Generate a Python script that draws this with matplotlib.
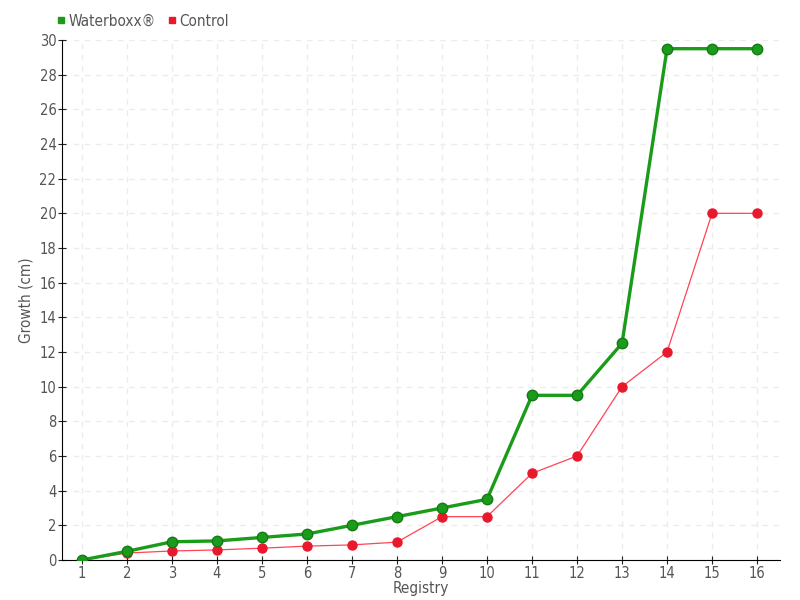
import matplotlib
matplotlib.use("Agg")
import matplotlib.pyplot as plt
from matplotlib.lines import Line2D

registry = list(range(1, 17))
waterboxx = [0, 0.5, 1.05, 1.1, 1.3, 1.5, 2.0, 2.5, 3.0, 3.5, 9.5, 9.5, 12.5, 29.5, 29.5, 29.5]
control = [0, 0.4, 0.52, 0.58, 0.68, 0.8, 0.87, 1.03, 2.5, 2.5, 5.0, 6.0, 10.0, 12.0, 20.0, 20.0]
yticks = list(range(0, 31, 2))

green = "#1a9c1a"
red = "#e8192c"
txt = "#555555"

plt.rcParams["font.family"] = ["DejaVu Sans"]
plt.rcParams["font.stretch"] = "condensed"

fig = plt.figure(figsize=(8, 6), dpi=100)
ax = fig.add_axes([0.0775, 0.0667, 0.8975, 0.8666])

ax.plot(registry, waterboxx, color="#7fd07f", lw=1.2, zorder=2)
ax.plot(registry, waterboxx, color=green, lw=2.4, marker="o", ms=7.5,
        mfc=green, mec="#157a15", mew=1, zorder=4)
ax.plot(registry, control, color="#ff4455", lw=0.9, marker="o", ms=6.5,
        mfc=red, mec=red, zorder=3)

ax.set_xlim(0.556, 16.51)
ax.set_ylim(0, 30)
ax.set_xticks(registry)
ax.set_yticks(yticks)
ax.tick_params(colors="#222222", labelcolor=txt, labelsize=10.5, direction="inout",
               length=6, pad=1)
ax.grid(True, color="#ececec", ls=(0, (4, 4)), lw=1)
for s in ["top", "right"]:
    ax.spines[s].set_visible(False)
ax.spines["left"].set_color("black")
ax.spines["bottom"].set_color("black")

ax.set_xlabel("Registry", color=txt, fontsize=11, labelpad=0)
ax.set_ylabel("Growth (cm)", color=txt, fontsize=11, labelpad=4)

handles = [Line2D([], [], ls="", marker="s", ms=5, color=green),
           Line2D([], [], ls="", marker="s", ms=5, color=red)]
fig.legend(handles, ["Waterboxx®", "Control"], loc="upper left",
           bbox_to_anchor=(0.05, 1.0), ncol=2, frameon=False,
           handletextpad=0.0, columnspacing=0.5, fontsize=11, labelcolor=txt,
           handlelength=1)

fig.savefig("out.png", dpi=100)
